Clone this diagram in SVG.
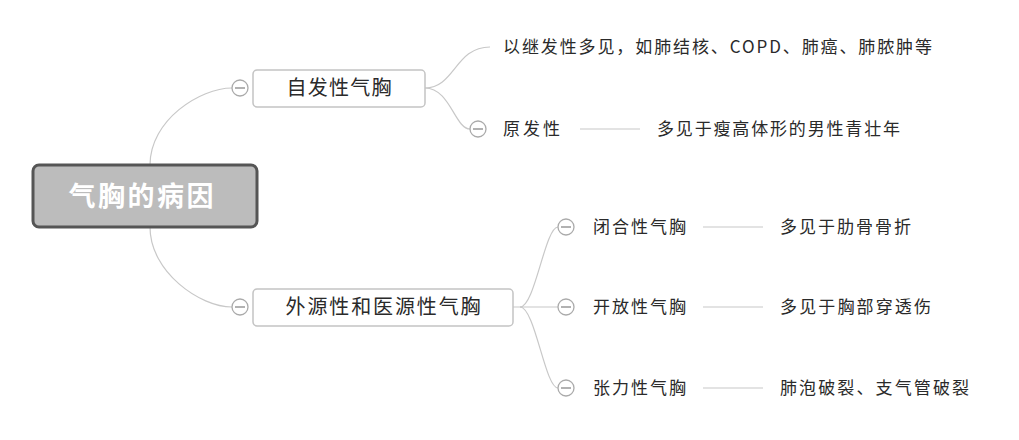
<svg xmlns="http://www.w3.org/2000/svg" width="1019" height="440" viewBox="0 0 1019 440">
<style>
.conn{fill:none;stroke:#c8c8c8;stroke-width:1.2}
.box{fill:#fff;stroke:#c4c4c4;stroke-width:1.5}
.tog circle{fill:#fff;stroke:#aaa;stroke-width:1.3}
.tog line{stroke:#888;stroke-width:1.3}
.t{font-family:"Noto Sans CJK SC","Liberation Sans",sans-serif;fill:#2a2a2a}
.n{font-size:20px}
.l{font-size:17px}
.root{font-family:"Noto Sans CJK SC","Liberation Sans",sans-serif;font-size:27px;font-weight:bold;fill:#fff}
</style>
<rect width="1019" height="440" fill="#fff"/>
<g id="connectors">
<path class="conn" d="M150,165 C150,120 200,88 232,88"/>
<path class="conn" d="M150,227 C150,272 200,307 232,307"/>
<path class="conn" d="M425,88 C455,88 455,47 490,47"/>
<path class="conn" d="M425,88 C450,88 455,129 470,129"/>
<path class="conn" d="M513,307 L520,307 C535,307 545,227 558,227"/>
<path class="conn" d="M520,307 L558,307"/>
<path class="conn" d="M520,307 C535,307 545,388 558,388"/>
<line class="conn" x1="580" y1="129" x2="640" y2="129"/>
<line class="conn" x1="703" y1="227" x2="763" y2="227"/>
<line class="conn" x1="703" y1="307" x2="763" y2="307"/>
<line class="conn" x1="703" y1="388" x2="763" y2="388"/>
</g>
<g id="root">
<rect x="33" y="165" width="224" height="62" rx="6" fill="#bcbcbc" stroke="#555" stroke-width="3"/>
<text class="root" x="141" y="206" text-anchor="middle" textLength="145" lengthAdjust="spacing">气胸的病因</text>
</g>
<g id="toggle1" class="tog"><circle cx="240" cy="88" r="8"/><line x1="235" y1="88" x2="245" y2="88"/></g>
<g id="toggle2" class="tog"><circle cx="240" cy="307" r="8"/><line x1="235" y1="307" x2="245" y2="307"/></g>
<g id="node-zifa">
<rect class="box" x="253" y="70" width="172" height="37" rx="4"/>
<text class="t n" x="339" y="95" text-anchor="middle" textLength="105" lengthAdjust="spacing">自发性气胸</text>
</g>
<g id="node-jifa">
<text class="t l" x="503" y="53" textLength="429" lengthAdjust="spacing">以继发性多见，如肺结核、COPD、肺癌、肺脓肿等</text>
</g>
<g id="node-yuanfa">
<g class="tog"><circle cx="478" cy="129" r="8"/><line x1="473" y1="129" x2="483" y2="129"/></g>
<text class="t l" x="503" y="135" textLength="57" lengthAdjust="spacing">原发性</text>
</g>
<g id="node-yuanfa-desc">
<text class="t l" x="657" y="135" textLength="243" lengthAdjust="spacing">多见于瘦高体形的男性青壮年</text>
</g>
<g id="node-waiyuan">
<rect class="box" x="253" y="289" width="260" height="37" rx="4"/>
<text class="t n" x="383" y="314" text-anchor="middle" textLength="195" lengthAdjust="spacing">外源性和医源性气胸</text>
</g>
<g id="node-bihe">
<g class="tog"><circle cx="566" cy="227" r="8"/><line x1="561" y1="227" x2="571" y2="227"/></g>
<text class="t l" x="593" y="233" textLength="93" lengthAdjust="spacing">闭合性气胸</text>
</g>
<g id="node-bihe-desc"><text class="t l" x="780" y="233" textLength="131" lengthAdjust="spacing">多见于肋骨骨折</text></g>
<g id="node-kaifang">
<g class="tog"><circle cx="566" cy="307" r="8"/><line x1="561" y1="307" x2="571" y2="307"/></g>
<text class="t l" x="593" y="313" textLength="93" lengthAdjust="spacing">开放性气胸</text>
</g>
<g id="node-kaifang-desc"><text class="t l" x="780" y="313" textLength="151" lengthAdjust="spacing">多见于胸部穿透伤</text></g>
<g id="node-zhangli">
<g class="tog"><circle cx="566" cy="388" r="8"/><line x1="561" y1="388" x2="571" y2="388"/></g>
<text class="t l" x="593" y="394" textLength="93" lengthAdjust="spacing">张力性气胸</text>
</g>
<g id="node-zhangli-desc"><text class="t l" x="780" y="394" textLength="189" lengthAdjust="spacing">肺泡破裂、支气管破裂</text></g>
</svg>
